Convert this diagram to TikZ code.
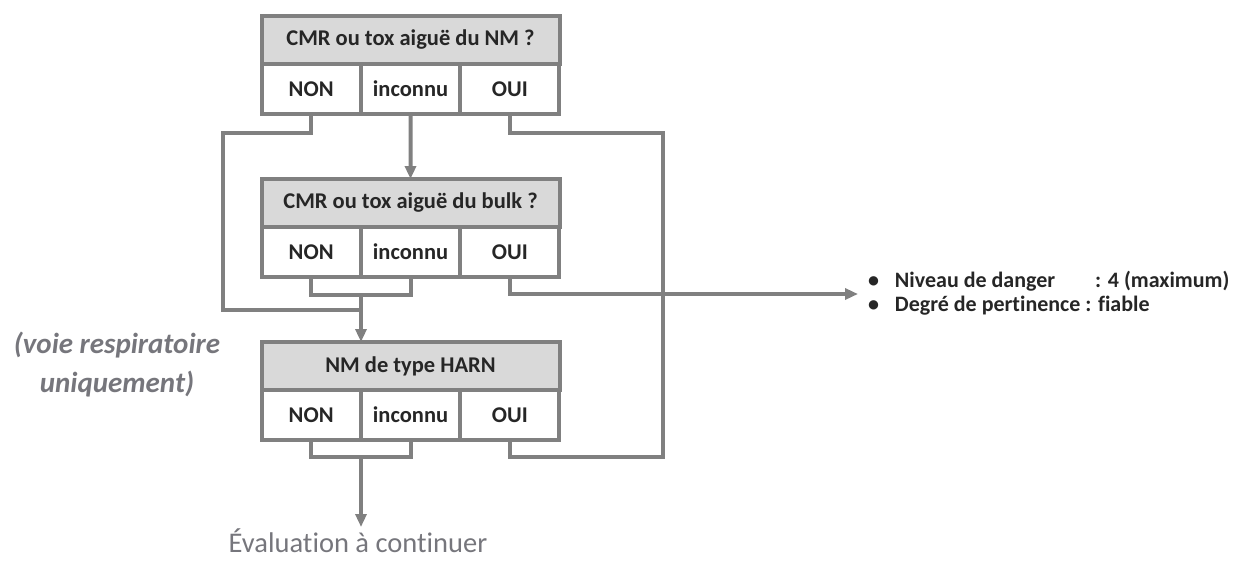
\documentclass[tikz,border=0pt]{standalone}
\usepackage{fontspec}
\setmainfont{Carlito}[Ligatures=NoCommon]
\usetikzlibrary{arrows.meta,positioning}
\definecolor{linegray}{RGB}{128,128,128}
\definecolor{headgray}{RGB}{217,217,217}
\definecolor{notegray}{RGB}{118,118,124}
\definecolor{boxtext}{RGB}{38,38,38}

\begin{document}
\begin{tikzpicture}[x=1pt,y=-1pt,line width=4pt,
head/.style={draw=linegray,fill=headgray,minimum width=298pt,minimum height=48pt,inner sep=0pt,outer sep=0pt,text=boxtext,font=\fontsize{22.5}{26}\selectfont\bfseries},
cell/.style={draw=linegray,fill=white,minimum width=99.33pt,minimum height=50pt,inner sep=0pt,outer sep=0pt,text=boxtext,font=\fontsize{22.5}{26}\selectfont\bfseries},
conn/.style={draw=linegray,line width=4pt},
arr/.style={conn,-{Triangle[length=13pt,width=11pt]}}]
\useasboundingbox (0,0) rectangle (1241,560);
% question boxes
\begin{scope}
\node[head] (h1) at (410.5,40) {CMR ou tox aiguë du NM ?};
\node[cell,anchor=north west] (n1) at (h1.south west) {NON};
\node[cell,anchor=west] (i1) at (n1.east) {inconnu};
\node[cell,anchor=west] (o1) at (i1.east) {OUI};
\node[head] (h2) at (410.5,203) {CMR ou tox aiguë du bulk ?};
\node[cell,anchor=north west] (n2) at (h2.south west) {NON};
\node[cell,anchor=west] (i2) at (n2.east) {inconnu};
\node[cell,anchor=west] (o2) at (i2.east) {OUI};
\node[head] (h3) at (410.5,366) {NM de type HARN};
\node[cell,anchor=north west] (n3) at (h3.south west) {NON};
\node[cell,anchor=west] (i3) at (n3.east) {inconnu};
\node[cell,anchor=west] (o3) at (i3.east) {OUI};
\end{scope}
% texts around
\node[font=\fontsize{29}{39}\selectfont\bfseries\itshape,text=notegray,align=center] (note) at (117,365) {(voie respiratoire\\uniquement)};
\node[font=\fontsize{28.5}{32}\selectfont,text=notegray,anchor=north,inner sep=0pt] (eval) at (358,527) {Évaluation à continuer};
\node[anchor=west,inner sep=0pt,text=boxtext,font=\fontsize{22}{24}\selectfont\bfseries] (res) at (866,295) {%
\begin{tabular}{@{}l@{\hspace{16pt}}l@{}}
• & Niveau de danger\hspace{40pt}: 4 (maximum)\\
• & Degré de pertinence : fiable
\end{tabular}};
% bends
\coordinate (wl) at (223,133);
\coordinate (er) at (663,133);
\coordinate (m2) at (361,295);
\coordinate (m2w) at (361,310);
\coordinate (m3) at (361,457);
\coordinate (tip) at (858,294);
\begin{scope}
\draw[conn] (n1.south) |- (wl) |- (m2w);
\draw[arr] (i1.south) -- (h2.north);
\draw[conn] (o1.south) |- (er) |- (m3 -| o3.south) -- (o3.south);
\draw[conn] (n2.south) |- (m2) -| (i2.south);
\draw[arr] (m2) -- (m2 |- h3.north);
\draw[arr] (o2.south) |- (tip);
\draw[conn] (n3.south) |- (m3) -| (i3.south);
\draw[arr] (m3) -- (m3 |- eval.north);
\end{scope}
\end{tikzpicture}
\end{document}
